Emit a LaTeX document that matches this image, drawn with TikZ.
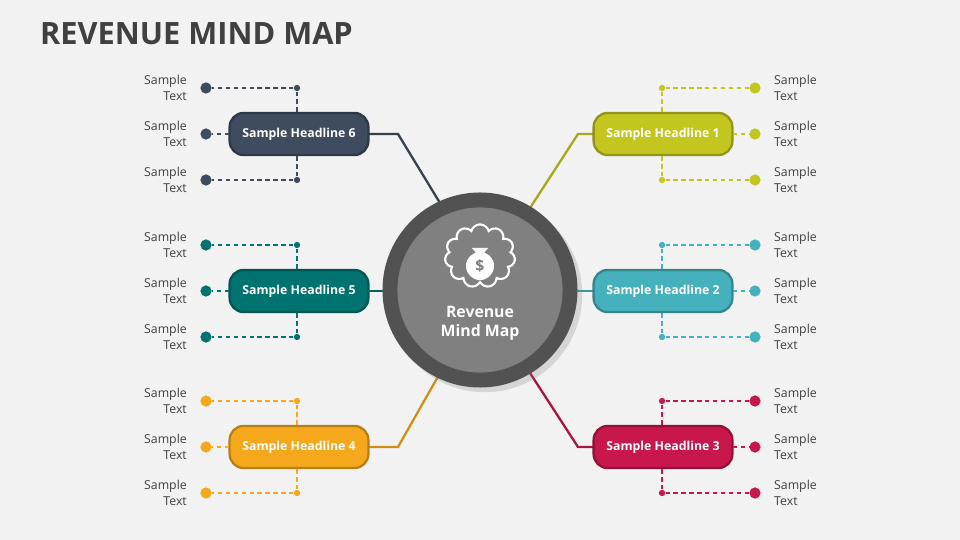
\documentclass[tikz,border=0pt]{standalone}
\usepackage{fontspec}
\setmainfont{Open Sans}
\usetikzlibrary{shapes.symbols,shadows}
\definecolor{bg}{HTML}{F2F2F2}
\definecolor{cA}{HTML}{C3C61F}
\definecolor{cB}{HTML}{45B1BD}
\definecolor{cC}{HTML}{C8174A}
\definecolor{cD}{HTML}{F5A81B}
\definecolor{cE}{HTML}{00726F}
\definecolor{cF}{HTML}{3F4B5F}
\tikzset{
  headline/.style={rounded corners=8pt, minimum width=79pt, minimum height=24pt,
    line width=1.3pt, text=white, font=\bfseries\fontsize{7}{9}\selectfont},
  bigdot/.style={circle, inner sep=0pt, minimum size=6.4pt},
  smalldot/.style={circle, inner sep=0pt, minimum size=3.6pt},
  leaf/.style={font=\fontsize{7}{9}\selectfont, text=black!75, align=left},
  branch/.style={line width=0.7pt, dash pattern=on 2.5pt off 2pt}
}
\begin{document}
\begin{tikzpicture}[x=0.02cm, y=-0.02cm]
  \fill[bg] (0,0) rectangle (960,540);
  \node[anchor=west, font=\bfseries\fontsize{17.5}{20}\selectfont, text=black!75] (title) at (34,34) {REVENUE MIND MAP};
  % connectors
  \draw[cA!85!black, line width=1.3pt] (530,208) -- (578,134) -- (593,134);
  \draw[cB!85!black, line width=1.3pt] (570,291) -- (593,291);
  \draw[cC!85!black, line width=1.3pt] (530,373) -- (578,447) -- (593,447);
  \draw[cD!85!black, line width=1.3pt] (440,373) -- (398,447) -- (369,447);
  \draw[cE!85!black, line width=1.3pt] (390,291) -- (369,291);
  \draw[cF!85!black, line width=1.3pt] (440,203) -- (398,134) -- (369,134);
  % hub
  \node[circle, fill=black!68, minimum size=111pt, inner sep=0pt, drop shadow={opacity=0.25}] (hub) at (480,290) {};
  \node[circle, fill=black!50, minimum size=94pt, inner sep=0pt] (core) at (480,290) {};
  \node[font=\bfseries\fontsize{9}{11}\selectfont, text=white, align=center] (hubtext) at (480,323) {Revenue\\Mind Map};
  \node[cloud, cloud puffs=11, draw=white, line width=1.2pt, minimum width=40pt, minimum height=36pt] (brain) at (480,256) {};
  \node[circle, fill=white, minimum size=16pt, inner sep=0pt, text=black!50, font=\bfseries\fontsize{9}{9}\selectfont] (bag) at (480,266) {\$};
  \fill[white] (472,248) -- (488,248) -- (483,254) -- (477,254) -- cycle;
  % headlines
  \foreach \name/\x/\y/\col/\lab in {h1/663/134/cA/1, h2/663/291/cB/2, h3/663/447/cC/3,
                                     h4/299/447/cD/4, h5/299/291/cE/5, h6/299/134/cF/6} {
    \node[headline, fill=\col, draw=\col!75!black] (\name) at (\x,\y) {Sample Headline \lab};
  }
  % leaves
  \foreach \y/\col/\n in {134/cA/a, 291/cB/b, 447/cC/c} {
    \node[smalldot, fill=\col] (\n t) at (662,\y-46) {};
    \node[smalldot, fill=\col] (\n b) at (662,\y+46) {};
    \node[bigdot, fill=\col] (\n 1) at (755,\y-46) {};
    \node[bigdot, fill=\col] (\n 2) at (755,\y) {};
    \node[bigdot, fill=\col] (\n 3) at (755,\y+46) {};
    \draw[branch, \col] (\n t) -- (\n 1);
    \draw[branch, \col] (\n b) -- (\n 3);
    \draw[branch, \col] (\n t) -- (662,\y-21);
    \draw[branch, \col] (\n b) -- (662,\y+21);
    \draw[branch, \col] (733,\y) -- (\n 2);
    \foreach \k in {1,2,3} \node[leaf, anchor=west] at ([xshift=4pt]\n \k.east) {Sample\\Text};
  }
  \foreach \y/\col/\n in {447/cD/d, 291/cE/e, 134/cF/f} {
    \node[smalldot, fill=\col] (\n t) at (297,\y-46) {};
    \node[smalldot, fill=\col] (\n b) at (297,\y+46) {};
    \node[bigdot, fill=\col] (\n 1) at (206,\y-46) {};
    \node[bigdot, fill=\col] (\n 2) at (206,\y) {};
    \node[bigdot, fill=\col] (\n 3) at (206,\y+46) {};
    \draw[branch, \col] (\n t) -- (\n 1);
    \draw[branch, \col] (\n b) -- (\n 3);
    \draw[branch, \col] (\n t) -- (297,\y-21);
    \draw[branch, \col] (\n b) -- (297,\y+21);
    \draw[branch, \col] (229,\y) -- (\n 2);
    \foreach \k in {1,2,3} \node[leaf, anchor=east, align=right] at ([xshift=-4pt]\n \k.west) {Sample\\Text};
  }
\end{tikzpicture}
\end{document}
